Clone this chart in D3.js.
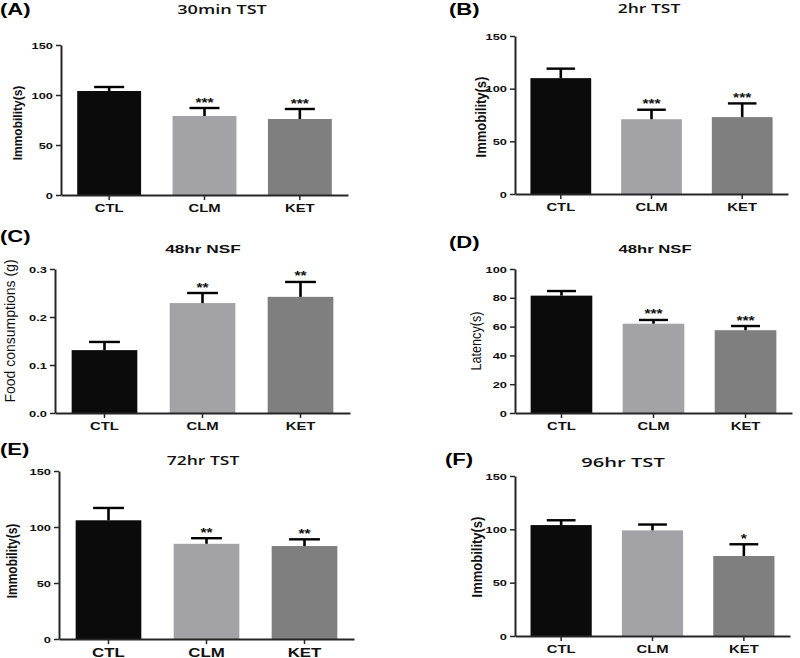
<!DOCTYPE html>
<html>
<head>
<meta charset="utf-8">
<script src="https://cdn.jsdelivr.net/npm/d3@7"></script>
<style>
  html, body { margin: 0; padding: 0; background: #fff; }
  svg { display: block; }
</style>
</head>
<body>
<svg id="chart" width="800" height="658"></svg>
<script>
// ---------------- DATA ----------------
const categories = ["CTL", "CLM", "KET"];
const panelLetters = ["(A)", "(B)", "(C)", "(D)", "(E)", "(F)"];
const panelTitles = ["30min TST", "2hr TST", "48hr NSF", "48hr NSF", "72hr TST", "96hr TST"];
const yLabels = ["Immobility(s)", "Immobility(s)", "Food consumptions (g)", "Latency(s)", "Immobility(s)", "Immobility(s)"];

const meansA = [104, 79, 76];      const errA = [4, 8, 10];         const starsA = ["", "***", "***"];
const meansB = [110, 71, 73];      const errB = [9, 9, 13];         const starsB = ["", "***", "***"];
const meansC = [0.131, 0.229, 0.242]; const errC = [0.017, 0.021, 0.031]; const starsC = ["", "**", "**"];
const meansD = [81.5, 62, 57.5];   const errD = [3.2, 2.6, 2.9];    const starsD = ["", "***", "***"];
const meansE = [106, 85, 83];      const errE = [11, 5, 6];         const starsE = ["", "**", "**"];
const meansF = [104, 99, 75];      const errF = [4.5, 5.5, 11];     const starsF = ["", "", "*"];

const ticksTST = [0, 50, 100, 150];
const ticksFood = [0, 0.1, 0.2, 0.3];
const ticksLatency = [0, 20, 40, 60, 80, 100];

// ---------------- LAYOUT / STYLE ----------------
const barColors = ["#0b0b0b", "#a3a3a7", "#7f7f7f"];
const SANS = "'Liberation Sans', Arial, sans-serif";
const OPEN = "'Open Sans', 'Liberation Sans', sans-serif";

const panels = [
  { means: meansA, err: errA, stars: starsA, ticks: ticksTST, max: 150, fmt: d3.format("d"),
    x0: 61, x1: 348, yTop: 45, y0: 195,
    letter: {x: 0, y: 15}, title: {x: 222, y: 14, font: OPEN, size: 12.5, weight: 600, sx: 1.45},
    ylab: {x: 18, y: 123, size: 12, weight: "bold", sx: 1.1}, xlabSize: 11 },
  { means: meansB, err: errB, stars: starsB, ticks: ticksTST, max: 150, fmt: d3.format("d"),
    x0: 515, x1: 788, yTop: 36, y0: 194,
    letter: {x: 449, y: 15}, title: {x: 649, y: 13, font: OPEN, size: 12.5, weight: 600, sx: 1.4},
    ylab: {x: 481, y: 117, size: 13, weight: "bold", sx: 1.1}, xlabSize: 11 },
  { means: meansC, err: errC, stars: starsC, ticks: ticksFood, max: 0.3, fmt: d3.format(".1f"),
    x0: 55, x1: 350, yTop: 269, y0: 413,
    letter: {x: 0, y: 242}, title: {x: 203, y: 253, font: SANS, size: 11.5, weight: "bold", sx: 1.5},
    ylab: {x: 10, y: 331, size: 14, weight: "normal", sx: 1.0}, xlabSize: 11 },
  { means: meansD, err: errD, stars: starsD, ticks: ticksLatency, max: 100, fmt: d3.format("d"),
    x0: 515, x1: 792, yTop: 269, y0: 413,
    letter: {x: 449, y: 248}, title: {x: 655, y: 253, font: SANS, size: 11.5, weight: "bold", sx: 1.45},
    ylab: {x: 476, y: 341, size: 12.6, weight: "normal", sx: 1.1}, xlabSize: 11 },
  { means: meansE, err: errE, stars: starsE, ticks: ticksTST, max: 150, fmt: d3.format("d"),
    x0: 59, x1: 354, yTop: 471, y0: 639,
    letter: {x: 0, y: 455}, title: {x: 203, y: 465, font: OPEN, size: 12.5, weight: 600, sx: 1.4},
    ylab: {x: 12, y: 561, size: 12, weight: "bold", sx: 1.2}, xlabSize: 12.5 },
  { means: meansF, err: errF, stars: starsF, ticks: ticksTST, max: 150, fmt: d3.format("d"),
    x0: 515, x1: 790, yTop: 476, y0: 636,
    letter: {x: 445, y: 465}, title: {x: 623, y: 467, font: OPEN, size: 13, weight: 600, sx: 1.55},
    ylab: {x: 477, y: 557, size: 13, weight: "bold", sx: 1.1}, xlabSize: 11 }
];

const svg = d3.select("#chart");
const AXIS = "#262626";

panels.forEach((p, i) => {
  const g = svg.append("g");
  const y = d3.scaleLinear().domain([0, p.max]).range([p.y0, p.yTop]);
  const x = d3.scaleBand().domain(categories).range([p.x0, p.x1])
    .paddingInner(0.33).paddingOuter(0.17);
  const bw = x.bandwidth();

  // bars
  g.selectAll("rect.bar").data(categories).join("rect")
    .attr("class", "bar")
    .attr("x", c => x(c))
    .attr("y", (c, k) => y(p.means[k]))
    .attr("width", bw)
    .attr("height", (c, k) => p.y0 - y(p.means[k]))
    .attr("fill", (c, k) => barColors[k]);

  // error bars (upper only)
  const capW = bw * 0.47;
  categories.forEach((c, k) => {
    const cx = x(c) + bw / 2;
    const top = y(p.means[k] + p.err[k]);
    g.append("line").attr("x1", cx).attr("x2", cx)
      .attr("y1", y(p.means[k])).attr("y2", top)
      .attr("stroke", "#000").attr("stroke-width", 2.6);
    g.append("line").attr("x1", cx - capW / 2).attr("x2", cx + capW / 2)
      .attr("y1", top).attr("y2", top)
      .attr("stroke", "#000").attr("stroke-width", 2.4);
    if (p.stars[k]) {
      g.append("text")
        .attr("transform", `translate(${cx},${top - 1.5}) scale(1.3,1)`)
        .attr("text-anchor", "middle")
        .attr("font-family", SANS).attr("font-weight", "bold")
        .attr("font-size", 12).attr("fill", "#111")
        .text(p.stars[k]);
    }
  });

  // y axis
  const ya = g.append("g").attr("transform", `translate(${p.x0},0)`)
    .call(d3.axisLeft(y).tickValues(p.ticks).tickFormat(p.fmt)
      .tickSize(5).tickSizeOuter(0).tickPadding(1));
  ya.select(".domain").attr("stroke", AXIS).attr("stroke-width", 2);
  ya.selectAll(".tick line").attr("stroke", AXIS).attr("stroke-width", 1.5);
  ya.selectAll(".tick text")
    .attr("font-family", SANS).attr("font-weight", "bold")
    .attr("font-size", 9.5).attr("fill", "#111")
    .attr("transform", "scale(1.35,1)");

  // x axis
  const xa = g.append("g").attr("transform", `translate(0,${p.y0})`)
    .call(d3.axisBottom(x).tickSize(5).tickSizeOuter(0).tickPadding(4));
  xa.select(".domain").attr("stroke", AXIS).attr("stroke-width", 2);
  xa.selectAll(".tick line").attr("stroke", AXIS).attr("stroke-width", 1.5);
  xa.selectAll(".tick text")
    .attr("font-family", SANS).attr("font-weight", "bold")
    .attr("font-size", p.xlabSize).attr("fill", "#111")
    .attr("transform", "scale(1.35,1)");

  // y label
  svg.append("text")
    .attr("transform", `translate(${p.ylab.x},${p.ylab.y}) scale(${p.ylab.sx},1) rotate(-90)`)
    .attr("text-anchor", "middle").attr("dominant-baseline", "central")
    .attr("font-family", SANS).attr("font-weight", p.ylab.weight)
    .attr("font-size", p.ylab.size).attr("fill", "#111")
    .text(yLabels[i]);

  // title
  svg.append("text")
    .attr("transform", `translate(${p.title.x},${p.title.y}) scale(${p.title.sx},1)`)
    .attr("text-anchor", "middle")
    .attr("font-family", p.title.font).attr("font-weight", p.title.weight)
    .attr("font-size", p.title.size).attr("fill", "#111")
    .text(panelTitles[i]);

  // panel letter
  svg.append("text")
    .attr("transform", `translate(${p.letter.x},${p.letter.y}) scale(1.3,1)`)
    .attr("font-family", SANS).attr("font-weight", "bold")
    .attr("font-size", 17).attr("fill", "#000")
    .text(panelLetters[i]);
});
</script>
</body>
</html>
